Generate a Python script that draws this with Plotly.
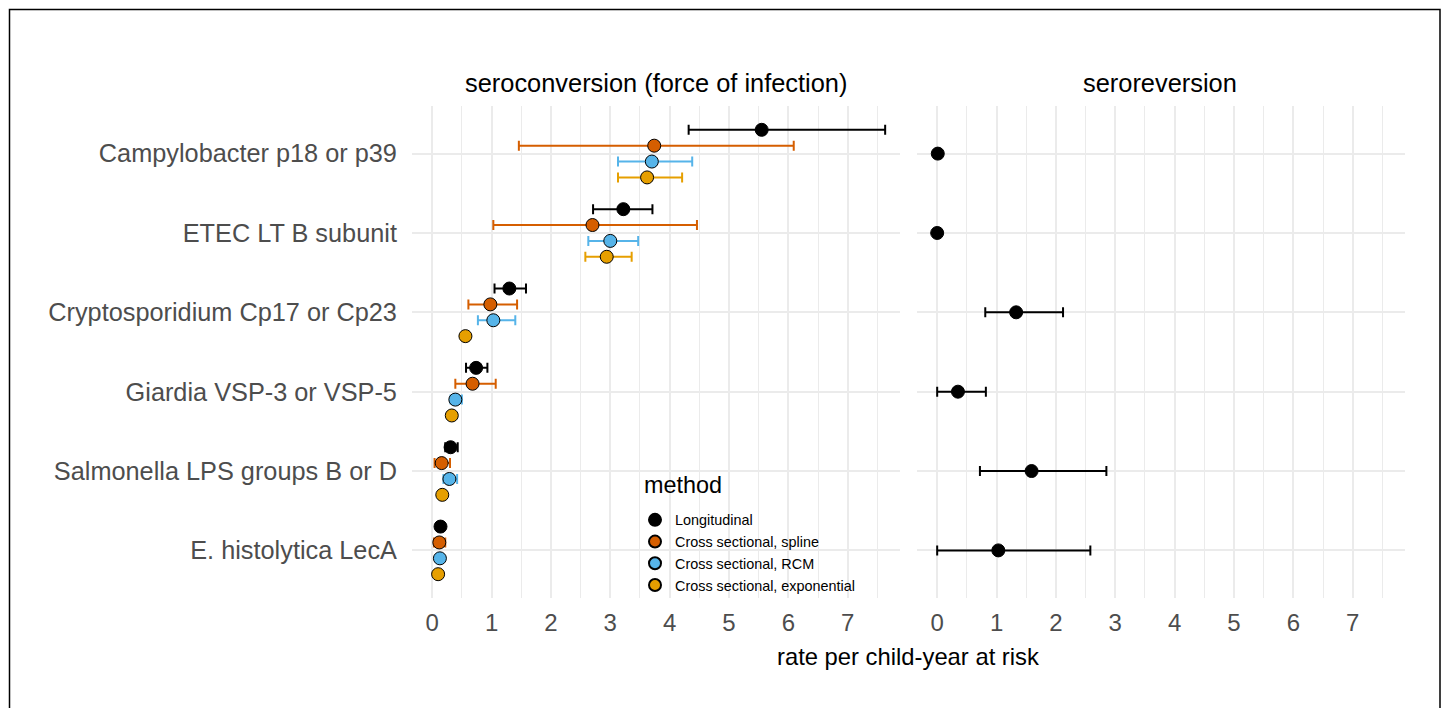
import plotly.graph_objects as go
import numpy as np

W, H = 1446, 708

# ---------------- data ----------------
categories = [
    "Campylobacter p18 or p39",
    "ETEC LT B subunit",
    "Cryptosporidium Cp17 or Cp23",
    "Giardia VSP-3 or VSP-5",
    "Salmonella LPS groups B or D",
    "E. histolytica LecA",
]
methods = ["Longitudinal", "Cross sectional, spline", "Cross sectional, RCM", "Cross sectional, exponential"]

long_est = [5.55, 3.22, 1.30, 0.74, 0.31, 0.14]
long_lo = [4.32, 2.71, 1.05, 0.57, 0.22, 0.09]
long_hi = [7.63, 3.71, 1.58, 0.93, 0.43, 0.19]

spline_est = [3.74, 2.70, 0.98, 0.68, 0.16, 0.12]
spline_lo = [1.46, 1.03, 0.61, 0.39, 0.04, 0.03]
spline_hi = [6.09, 4.46, 1.43, 1.07, 0.30, 0.22]

rcm_est = [3.70, 3.00, 1.03, 0.39, 0.29, 0.13]
rcm_lo = [3.13, 2.63, 0.77, 0.31, 0.19, 0.09]
rcm_hi = [4.38, 3.47, 1.40, 0.50, 0.42, 0.18]

exp_est = [3.62, 2.94, 0.56, 0.33, 0.17, 0.10]
exp_lo = [3.13, 2.58, 0.53, 0.30, 0.14, 0.08]
exp_hi = [4.21, 3.36, 0.60, 0.37, 0.21, 0.12]

rev_est = [0.01, 0.00, 1.33, 0.35, 1.59, 1.03]
rev_lo = [0.01, 0.00, 0.81, 0.00, 0.72, 0.00]
rev_hi = [0.01, 0.00, 2.12, 0.82, 2.85, 2.58]

x_ticks = [0, 1, 2, 3, 4, 5, 6, 7]

colors = ["#000000", "#D55E00", "#56B4E9", "#E69F00"]
dodge = [0.3, 0.1, -0.1, -0.3]

# ---------------- figure ----------------
n = len(categories)
ypos = np.arange(n, 0, -1, dtype=float)  # top category highest

FONT = "Liberation Sans, Arial, Helvetica, sans-serif"

fig = go.Figure()

series = [
    (long_est, long_lo, long_hi),
    (spline_est, spline_lo, spline_hi),
    (rcm_est, rcm_lo, rcm_hi),
    (exp_est, exp_lo, exp_hi),
]
for i, (name, (est, lo, hi)) in enumerate(zip(methods, series)):
    est = np.array(est); lo = np.array(lo); hi = np.array(hi)
    fig.add_trace(go.Scatter(
        x=est, y=ypos + dodge[i], mode="markers", name=name,
        xaxis="x", yaxis="y",
        marker=dict(size=13, color=colors[i], line=dict(color="black", width=1)),
        error_x=dict(type="data", symmetric=False, array=hi - est, arrayminus=est - lo,
                     color=colors[i], thickness=2, width=5),
        showlegend=True,
    ))

rev_est_a = np.array(rev_est); rev_lo_a = np.array(rev_lo); rev_hi_a = np.array(rev_hi)
fig.add_trace(go.Scatter(
    x=rev_est_a, y=ypos, mode="markers", name="Longitudinal",
    xaxis="x2", yaxis="y2",
    marker=dict(size=13, color="black", line=dict(color="black", width=1)),
    error_x=dict(type="data", symmetric=False, array=rev_hi_a - rev_est_a,
                 arrayminus=rev_est_a - rev_lo_a, color="black", thickness=2, width=5),
    showlegend=False,
))

px_x = lambda p: p / W
px_y = lambda p: 1 - p / H

xr = [-0.34, 7.88]
yr = [0.4, 6.6]
grid = "#ebebeb"

xcommon = dict(
    range=xr, tickvals=x_ticks, ticktext=[str(v) for v in x_ticks],
    showgrid=True, gridcolor=grid, gridwidth=2,
    minor=dict(dtick=0.5, tick0=0, showgrid=True, gridcolor=grid, gridwidth=1, ticks=""),
    zeroline=False, showline=False,
    ticks="outside", ticklen=3, tickcolor="rgba(0,0,0,0)",
    tickfont=dict(family=FONT, size=24, color="#4d4d4d"),
)
ycommon = dict(
    range=yr, tickvals=list(ypos), showgrid=True, gridcolor=grid, gridwidth=2,
    zeroline=False, showline=False,
)

fig.update_layout(
    width=W, height=H,
    margin=dict(l=0, r=0, t=0, b=0),
    paper_bgcolor="white", plot_bgcolor="white",
    font=dict(family=FONT, color="black"),
    xaxis=dict(xcommon, domain=[px_x(412), px_x(900)], anchor="y"),
    xaxis2=dict(xcommon, domain=[px_x(917), px_x(1405)], anchor="y2"),
    yaxis=dict(ycommon, domain=[px_y(598), px_y(106)], anchor="x",
               ticktext=categories, ticks="outside", ticklen=9,
               tickcolor="rgba(0,0,0,0)",
               tickfont=dict(family=FONT, size=25.3, color="#4d4d4d")),
    yaxis2=dict(ycommon, domain=[px_y(598), px_y(106)], anchor="x2",
                showticklabels=False),
    legend=dict(
        x=px_x(635), y=px_y(504), xanchor="left", yanchor="top",
        bgcolor="rgba(0,0,0,0)", borderwidth=0,
        font=dict(family=FONT, size=14.4, color="black"),
        itemsizing="constant",
    ),
    showlegend=True,
)

annotations = [
    dict(text="seroconversion (force of infection)", x=px_x(656), y=px_y(83),
         xref="paper", yref="paper", xanchor="center", yanchor="middle",
         showarrow=False, font=dict(family=FONT, size=25.4, color="black")),
    dict(text="seroreversion", x=px_x(1160), y=px_y(83),
         xref="paper", yref="paper", xanchor="center", yanchor="middle",
         showarrow=False, font=dict(family=FONT, size=25.4, color="black")),
    dict(text="rate per child-year at risk", x=px_x(908), y=px_y(656),
         xref="paper", yref="paper", xanchor="center", yanchor="middle",
         showarrow=False, font=dict(family=FONT, size=23.8, color="black")),
    dict(text="method", x=px_x(642), y=px_y(485),
         xref="paper", yref="paper", xanchor="left", yanchor="middle",
         showarrow=False, font=dict(family=FONT, size=23.4, color="black")),
]
fig.update_layout(annotations=annotations)

# white legend box covering gridlines (as in the reference)
fig.add_shape(type="rect", xref="paper", yref="paper",
              x0=px_x(636), x1=px_x(880), y0=px_y(594), y1=px_y(470),
              line=dict(width=0), fillcolor="white", layer="between")

fig.add_shape(type="rect", xref="paper", yref="paper",
              x0=px_x(9.5), x1=px_x(1440), y0=-0.1, y1=px_y(9.5),
              line=dict(color="black", width=1.5), fillcolor="rgba(0,0,0,0)", layer="above")

fig.write_html("out.html")
